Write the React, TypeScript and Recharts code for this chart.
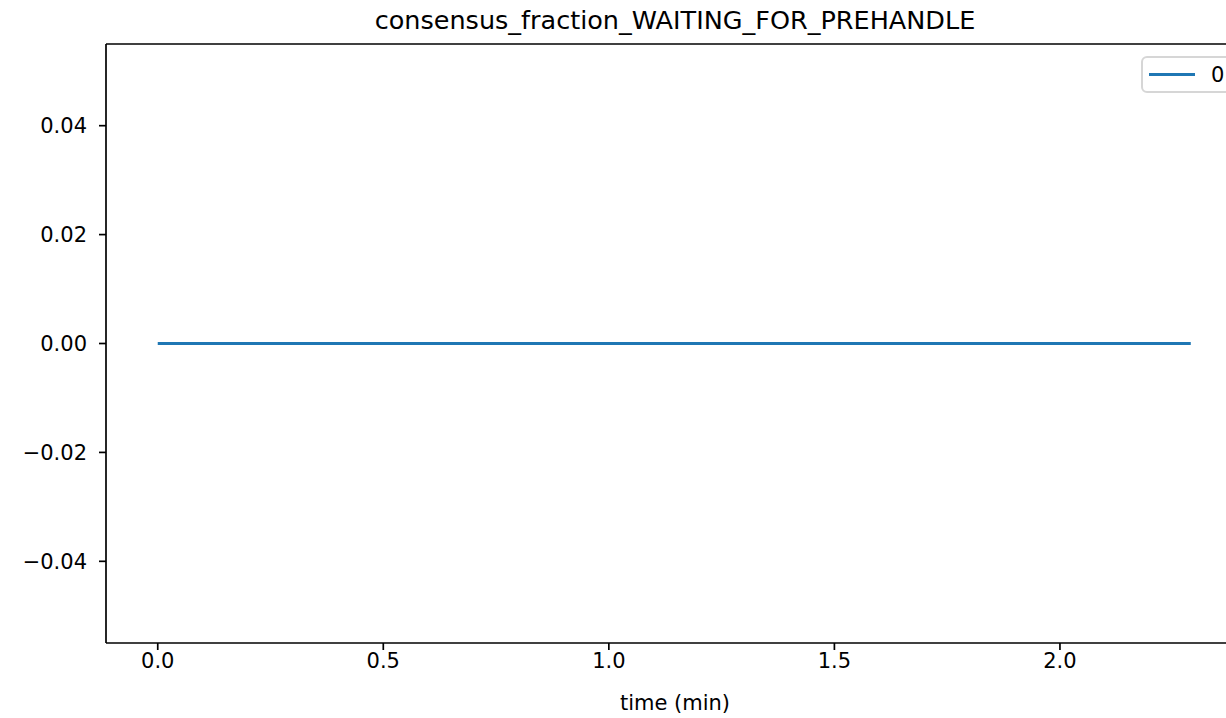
import { LineChart, Line, XAxis, YAxis, Legend, ReferenceLine } from 'recharts';

const timeMin = [0, 0.25, 0.5, 0.75, 1.0, 1.25, 1.5, 1.75, 2.0, 2.25, 2.29];
const series0 = [0, 0, 0, 0, 0, 0, 0, 0, 0, 0, 0];
const xTicks = [0, 0.5, 1.0, 1.5, 2.0];
const yTicks = [-0.04, -0.02, 0, 0.02, 0.04];

const data = timeMin.map((t, i) => ({ t, v: series0[i] }));

const fmtY = (v: number) => (v < 0 ? '\u2212' + Math.abs(v).toFixed(2) : v.toFixed(2));
const fmtX = (v: number) => v.toFixed(1);

const font = 'DejaVu Sans, sans-serif';
const tickStyle = { fill: '#000', fontSize: 21, fontFamily: font };
const xDomain = [-0.1147, 2.408];
const yDomain = [-0.055, 0.055];

function LegendBox() {
  return (
    <div
      style={{
        position: 'absolute',
        left: 1141,
        top: 56,
        width: 96,
        height: 37,
        boxSizing: 'border-box',
        border: '2px solid #d6d6d6',
        borderRadius: 6,
        background: '#fff',
        display: 'flex',
        alignItems: 'center',
        fontFamily: font,
        fontSize: 21,
      }}
    >
      <div style={{ width: 46, height: 3, background: '#1f77b4', marginLeft: 6 }} />
      <span style={{ marginLeft: 16 }}>0</span>
    </div>
  );
}

export default function App() {
  return (
    <div
      style={{
        position: 'fixed',
        left: 0,
        top: 0,
        width: 1226,
        height: 718,
        overflow: 'hidden',
        background: '#fff',
        fontFamily: font,
      }}
    >
      <div
        style={{
          position: 'absolute',
          left: 106,
          width: 1138,
          top: 5,
          textAlign: 'center',
          fontSize: 25.5,
          color: '#000',
        }}
      >
        consensus_fraction_WAITING_FOR_PREHANDLE
      </div>
      <LineChart
        width={1250}
        height={718}
        data={data}
        margin={{ top: 44, right: 6, bottom: 0, left: 0 }}
      >
        <XAxis
          dataKey="t"
          type="number"
          domain={xDomain}
          ticks={xTicks}
          tickFormatter={fmtX}
          allowDataOverflow
          stroke="#000"
          strokeWidth={1.7}
          tickSize={7}
          tickMargin={3}
          tick={tickStyle}
          height={75}
          label={{ value: 'time (min)', position: 'insideBottom', offset: 8, fill: '#000', fontSize: 21, fontFamily: font }}
        />
        <YAxis
          type="number"
          domain={yDomain}
          ticks={yTicks}
          tickFormatter={fmtY}
          allowDataOverflow
          stroke="#000"
          strokeWidth={1.7}
          tickSize={7}
          tickMargin={12}
          tick={tickStyle}
          width={106}
        />
        <ReferenceLine y={0.055} stroke="#000" strokeWidth={1.7} ifOverflow="visible" />
        <ReferenceLine x={2.408} stroke="#000" strokeWidth={1.7} ifOverflow="visible" />
        <Legend content={() => <LegendBox />} wrapperStyle={{ position: 'absolute', left: 0, top: 0, width: 0, height: 0 }} />
        <Line
          type="linear"
          dataKey="v"
          name="0"
          stroke="#1f77b4"
          strokeWidth={3}
          dot={false}
          isAnimationActive={false}
        />
      </LineChart>
    </div>
  );
}
